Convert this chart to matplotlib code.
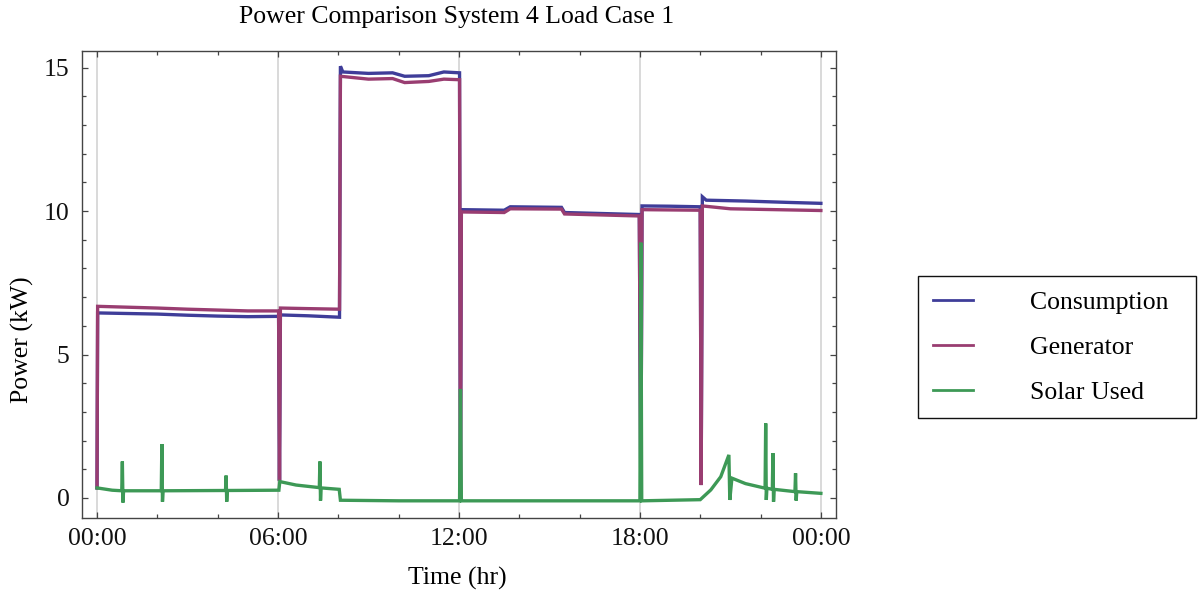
import matplotlib
matplotlib.use('Agg')
import matplotlib.pyplot as plt
from matplotlib.ticker import MultipleLocator, FixedLocator

plt.rcParams['font.family'] = ['Liberation Serif', 'DejaVu Serif']

# time in hours, power in kW
cons_t = [0.0, 0.02, 1.0, 2.0, 3.0, 4.0, 5.0, 6.02, 6.05, 6.08, 7.0, 8.04, 8.07, 8.15,
          9.0, 9.8, 10.2, 11.0, 11.5, 12.02, 12.05, 12.08, 13.5, 13.7, 15.4, 15.5,
          17.98, 18.03, 18.07, 19.0, 20.0, 20.03, 20.07, 20.2, 21.5, 23.0, 24.0]
cons_kw = [0.35, 6.45, 6.43, 6.41, 6.37, 6.34, 6.32, 6.33, 0.6, 6.38, 6.35, 6.30, 15.05, 14.85,
           14.8, 14.82, 14.7, 14.72, 14.85, 14.82, 0.0, 10.05, 10.03, 10.15, 10.13, 9.95,
           9.88, 0.0, 10.18, 10.17, 10.15, 0.45, 10.5, 10.38, 10.35, 10.3, 10.27]

gen_t = [0.0, 0.02, 1.0, 2.0, 3.0, 4.0, 5.0, 6.02, 6.05, 6.08, 7.0, 8.04, 8.07,
         9.0, 9.8, 10.2, 11.0, 11.5, 12.02, 12.05, 12.08, 13.5, 13.7, 15.4, 15.5,
         17.98, 18.03, 18.07, 20.0, 20.03, 20.07, 21.0, 24.0]
gen_kw = [0.35, 6.68, 6.65, 6.62, 6.58, 6.55, 6.52, 6.52, 0.6, 6.62, 6.6, 6.58, 14.7,
          14.6, 14.62, 14.48, 14.52, 14.6, 14.58, 0.0, 9.97, 9.95, 10.08, 10.07, 9.9,
          9.83, 0.0, 10.05, 10.03, 0.45, 10.18, 10.08, 10.02]

sol_t = [0.0, 0.5, 0.82, 0.84, 0.86, 0.88, 2.13, 2.15, 2.17, 2.19, 4.26, 4.28, 4.30, 4.32,
         6.03, 6.06, 6.6, 7.37, 7.39, 7.41, 7.43, 8.03, 8.07, 10.0, 12.02, 12.05, 12.08,
         15.0, 18.0, 18.03, 18.06, 20.0, 20.35, 20.68, 20.95, 20.98, 21.05, 21.5,
         22.15, 22.17, 22.19, 22.21, 22.39, 22.41, 22.43, 22.45,
         23.14, 23.16, 23.18, 23.20, 24.0]
sol_kw = [0.35, 0.27, 0.25, 1.27, -0.16, 0.25, 0.25, 1.88, -0.13, 0.25, 0.26, 0.78, -0.13, 0.26,
          0.27, 0.57, 0.45, 0.36, 1.27, -0.09, 0.35, 0.3, -0.08, -0.1, -0.1, 3.8, -0.1,
          -0.1, -0.1, 8.9, -0.1, -0.06, 0.28, 0.74, 1.5, -0.07, 0.69, 0.5,
          0.34, 2.6, -0.07, 0.34, 0.3, 1.56, -0.13, 0.3,
          0.22, 0.86, -0.09, 0.22, 0.16]

names = ['Consumption', 'Generator', 'Solar Used']
colors = ['#3F3D99', '#993D71', '#3D9956']
xticks = [0, 6, 12, 18, 24]
xlabels = ['00:00', '06:00', '12:00', '18:00', '00:00']
fs = 18.5

fig = plt.figure(figsize=(11.98, 5.94), dpi=100)
ax = fig.add_axes([0.0684, 0.1279, 0.6294, 0.7862])

for t, v, c, n in [(cons_t, cons_kw, colors[0], names[0]),
                   (gen_t, gen_kw, colors[1], names[1]),
                   (sol_t, sol_kw, colors[2], names[2])]:
    ax.plot(t, v, color=c, lw=2.4, label=n, solid_joinstyle='miter')

ax.set_xlim(-0.5, 24.5)
ax.set_ylim(-0.70, 15.58)
ax.xaxis.set_major_locator(FixedLocator(xticks))
ax.set_xticklabels(xlabels)
ax.xaxis.set_minor_locator(MultipleLocator(2))
ax.yaxis.set_major_locator(FixedLocator([0, 5, 10, 15]))
ax.yaxis.set_minor_locator(MultipleLocator(1))
ax.grid(axis='x', which='major', color='#D0D0D0', lw=1.1)
ax.set_axisbelow(True)

for s in ax.spines.values():
    s.set_color('#444444')
    s.set_linewidth(1.0)
ax.tick_params(which='both', direction='in', top=True, right=True, color='#444444',
               width=0.9, labelsize=fs, labelcolor='#111111')
ax.tick_params(which='major', length=4.5)
ax.tick_params(which='minor', length=2.8)
ax.tick_params(axis='x', pad=7)
ax.tick_params(axis='y', pad=9)

fig.text(457 / 1198, 1 - 17 / 594, 'Power Comparison System 4 Load Case 1',
         fontsize=fs, ha='center', va='center')
fig.text(457 / 1198, 1 - 578 / 594, 'Time (hr)', fontsize=fs, ha='center', va='center')
fig.text(22 / 1198, 1 - 340 / 594, 'Power (kW)', fontsize=fs, ha='center', va='center',
         rotation=90)

leg = fig.legend(handles=[plt.Line2D([], [], color=c, lw=2.0) for c in colors], labels=names,
                 loc='upper left', bbox_to_anchor=(918 / 1198, 1 - 419 / 594, 278 / 1198, 143 / 594),
                 bbox_transform=fig.transFigure, mode='expand', borderaxespad=0,
                 fontsize=fs, handlelength=1.56, handletextpad=2.2, borderpad=0.58,
                 labelspacing=0.85, fancybox=False, framealpha=1)
leg.get_frame().set_edgecolor('#111111')
leg.get_frame().set_linewidth(1.0)

fig.savefig('out.png', dpi=100)
